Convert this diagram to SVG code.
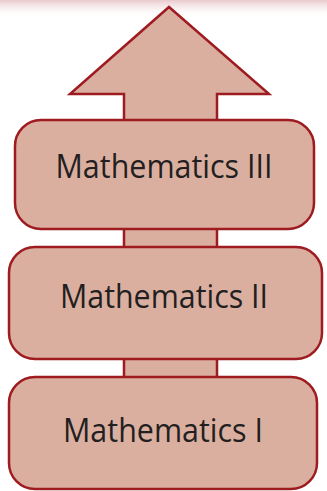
<svg xmlns="http://www.w3.org/2000/svg" width="327" height="491" viewBox="0 0 327 491">
<defs>
<linearGradient id="topfade" x1="0" y1="0" x2="0" y2="1">
<stop offset="0" stop-color="#e9c9cc"/>
<stop offset="1" stop-color="#ffffff" stop-opacity="0"/>
</linearGradient>
</defs>
<style>
.shape{fill:#dbafa0;stroke:#9e1b20;stroke-width:2.5;stroke-linejoin:miter}
.lbl{font-family:"Open Sans","Liberation Sans",sans-serif;font-size:33px;fill:#231f20;text-anchor:middle}
</style>
<rect x="0" y="0" width="327" height="18" fill="url(#topfade)"/>
<g id="connectors">
<polygon class="shape" points="169,7 269,94 217,94 217,470 124,470 124,94 70,94"/>
</g>
<g id="node-math3">
<rect class="shape" x="15" y="120" width="299" height="109" rx="26" ry="26"/>
<text class="lbl" x="164" y="178" textLength="217" lengthAdjust="spacingAndGlyphs">Mathematics III</text>
</g>
<g id="node-math2">
<rect class="shape" x="9" y="247" width="313" height="112" rx="26" ry="26"/>
<text class="lbl" x="164" y="308" textLength="208" lengthAdjust="spacingAndGlyphs">Mathematics II</text>
</g>
<g id="node-math1">
<rect class="shape" x="9" y="377" width="308" height="112" rx="26" ry="26"/>
<text class="lbl" x="163" y="442" textLength="200" lengthAdjust="spacingAndGlyphs">Mathematics I</text>
</g>
</svg>
